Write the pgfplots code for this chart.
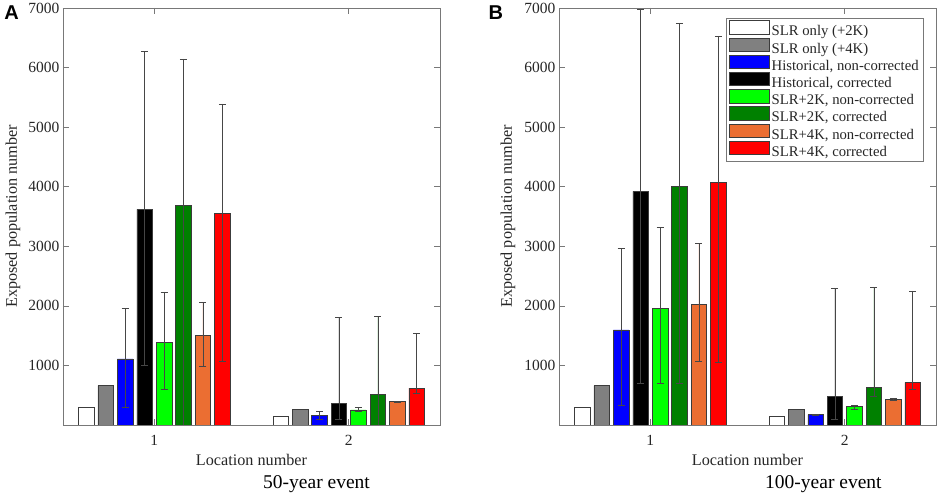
\documentclass[border=0pt]{standalone}
\usepackage{pgfplots}
\pgfplotsset{compat=1.18}
\usepackage{fontspec}
\setmainfont{Liberation Serif}
\setsansfont{Liberation Sans}
\definecolor{cgray}{RGB}{128,128,128}
\definecolor{cblue}{RGB}{0,0,255}
\definecolor{clgreen}{RGB}{0,255,0}
\definecolor{cdgreen}{RGB}{0,128,0}
\definecolor{corange}{RGB}{235,110,50}
\definecolor{cred}{RGB}{255,0,0}
\definecolor{edgec}{RGB}{60,60,60}
\definecolor{errc}{RGB}{70,70,70}
\definecolor{axc}{RGB}{120,120,120}
\definecolor{txt}{RGB}{38,38,38}
\pgfplotsset{
  b/.style={ybar, bar width=0.08, bar shift=0pt, fill=#1, draw=edgec, line width=0.5pt,
    legend image code/.code={\draw[##1] (0pt,-2pt) rectangle (40pt,11.5pt);}},
  eb/.style={error bars/.cd, y dir=both, y explicit,
    error bar style={draw=errc, line width=0.6pt},
    error mark options={draw=errc, rotate=90, mark size=3.5pt, line width=0.6pt}},
  panel/.style={
    scale only axis, width=377pt, height=417pt,
    xmin=0.53, xmax=2.47, ymin=0, ymax=7000,
    xtick={1,2}, ytick={1000,2000,...,7000},
    axis line style={draw=axc, line width=0.6pt},
    major tick length=6pt, tick style={draw=axc, line width=0.6pt},
    tick label style={font=\fontsize{15.5}{18}\selectfont, text=txt},
    xticklabel style={yshift=-6.5pt},
    /pgf/number format/assume math mode=true,
    /pgf/number format/1000 sep={},
    label style={font=\fontsize{16.2}{19}\selectfont, text=txt},
    xlabel={Location number}, ylabel={Exposed population number},
    xlabel style={at={(axis description cs:0.5,-0.085)}, anchor=center},
    clip=true,
  }
}
\begin{document}
\begin{tikzpicture}
\useasboundingbox (0,0) rectangle (941pt,497pt);
\fill[white] (0,0) rectangle (941pt,497pt);
% ---------- A: 50-year event ----------
\begin{axis}[panel, at={(63pt,72pt)}, anchor=south west,
  ylabel style={at={(axis description cs:-0.1326,0.5)}, rotate=0, anchor=center}]
\addplot[b=white] coordinates {(0.65,300) (1.65,151)};
\addplot[b=cgray] coordinates {(0.75,660) (1.75,257)};
\addplot[b=cblue, eb] coordinates {(0.85,1108) += (0,851) -= (0,806) (1.85,157) += (0,73) -= (0,57)};
\addplot[b=black, eb] coordinates {(0.95,3621) += (0,2652) -= (0,2621) (1.95,369) += (0,1438) -= (0,269)};
\addplot[b=clgreen, eb] coordinates {(1.05,1388) += (0,845) -= (0,784) (2.05,252) += (0,39) -= (0,28)};
\addplot[b=cdgreen, eb] coordinates {(1.15,3688) += (0,2456) -= (0,3788) (2.15,520) += (0,1304) -= (0,620)};
\addplot[b=corange, eb] coordinates {(1.25,1500) += (0,565) -= (0,510) (2.25,392) += (0,8) -= (0,7)};
\addplot[b=cred, eb] coordinates {(1.35,3553) += (0,1836) -= (0,2484) (2.35,621) += (0,912) -= (0,81)};
\end{axis}
% ---------- B: 100-year event ----------
\begin{axis}[panel, at={(559pt,72pt)}, anchor=south west,
  ylabel style={at={(axis description cs:-0.1353,0.5)}, rotate=0, anchor=center},
  legend cell align=left,
  legend style={at={(rel axis cs:0.968,0.976)}, anchor=north east, draw=axc, line width=0.6pt,
    fill=white, row sep=-1.8pt, inner xsep=3pt, inner ysep=2pt,
    font=\fontsize{14.7}{17}\selectfont,
    nodes={text=txt, text height=10.5pt, text depth=3pt, inner ysep=0.5pt, inner xsep=2pt}}]
\addplot[b=white] coordinates {(0.65,302) (1.65,151)};
\addlegendentry{SLR only (+2K)}
\addplot[b=cgray] coordinates {(0.75,660) (1.75,257)};
\addlegendentry{SLR only (+4K)}
\addplot[b=cblue, eb] coordinates {(0.85,1595) += (0,1365) -= (0,1259) (1.85,173) += (0,7) -= (0,8)};
\addlegendentry{Historical, non-corrected}
\addplot[b=black, eb] coordinates {(0.95,3923) += (0,3062) -= (0,3223) (1.95,476) += (0,1824) -= (0,376)};
\addlegendentry{Historical, corrected}
\addplot[b=clgreen, eb] coordinates {(1.05,1959) += (0,1359) -= (0,1254) (2.05,308) += (0,25) -= (0,42)};
\addlegendentry{SLR+2K, non-corrected}
\addplot[b=cdgreen, eb] coordinates {(1.15,4001) += (0,2748) -= (0,3301) (2.15,627) += (0,1690) -= (0,152)};
\addlegendentry{SLR+2K, corrected}
\addplot[b=corange, eb] coordinates {(1.25,2020) += (0,1024) -= (0,946) (2.25,425) += (0,15) -= (0,15)};
\addlegendentry{SLR+4K, non-corrected}
\addplot[b=cred, eb] coordinates {(1.35,4074) += (0,2457) -= (0,3016) (2.35,716) += (0,1534) -= (0,116)};
\addlegendentry{SLR+4K, corrected}
\end{axis}
% ---------- panel letters and event titles ----------
\node[font=\sffamily\bfseries\fontsize{20}{22}\selectfont, anchor=center] at (11.7pt,484.2pt) {A};
\node[font=\sffamily\bfseries\fontsize{20}{22}\selectfont, anchor=center] at (495.8pt,484.5pt) {B};
\node[font=\fontsize{19.5}{22}\selectfont, anchor=base west, inner sep=0pt] at (263pt,8.5pt) {50-year event};
\node[font=\fontsize{19.5}{22}\selectfont, anchor=base west, inner sep=0pt] at (765pt,8.5pt) {100-year event};
\end{tikzpicture}
\end{document}
